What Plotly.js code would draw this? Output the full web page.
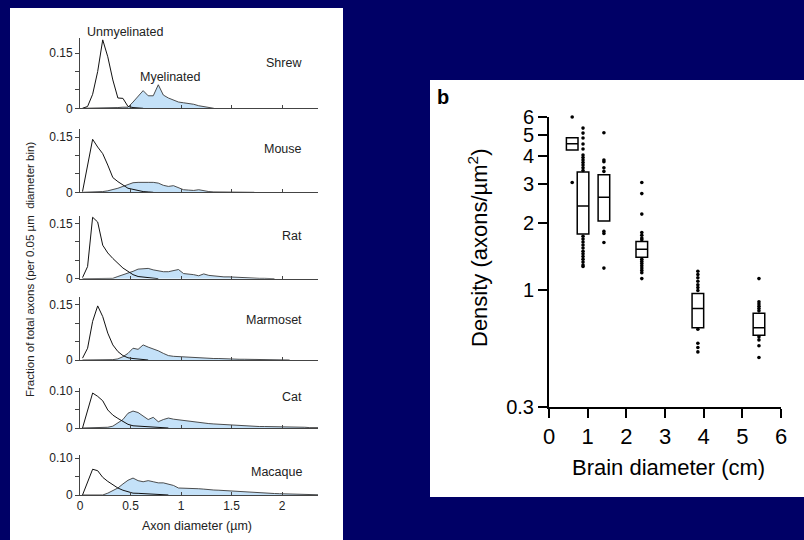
<!DOCTYPE html>
<html>
<head>
<meta charset="utf-8">
<script src="https://cdn.plot.ly/plotly-3.0.1.min.js"></script>
<style>html,body{margin:0;padding:0;background:#000066;}#chart{width:804px;height:540px;}</style>
</head>
<body>
<div id="chart"></div>
<script>
// ---------- Panel a: axon diameter distributions ----------
const diameterBins = [0.025,0.075,0.125,0.175,0.225,0.275,0.325,0.375,0.425,0.475,0.525,0.575,0.625,0.675,0.725,0.775,0.825,0.875,0.925,0.975,1.025,1.075,1.125,1.175,1.225,1.275,1.325,1.375,1.425,1.475,1.525,1.575,1.625,1.675,1.725,1.775,1.825,1.875,1.925,1.975,2.025,2.075,2.125,2.175,2.225,2.275,2.325,2.375];
const species = ["Shrew","Mouse","Rat","Marmoset","Cat","Macaque"];

const shrewUnmyel = [0,0.005,0.038,0.1,0.186,0.14,0.077,0.028,0.027,0.005,0.002,0.001,0];
const shrewMyel   = [0,0,0,0,0,0,0,0.002,0.003,0.003,0.017,0.032,0.048,0.034,0.034,0.064,0.036,0.028,0.022,0.017,0.015,0.014,0.011,0.007,0.004,0.001,0];
const mouseUnmyel = [0.002,0.074,0.144,0.123,0.105,0.074,0.04,0.029,0.02,0.011,0.008,0.004,0.002,0.001,0];
const mouseMyel   = [0,0,0,0.001,0.002,0.004,0.007,0.011,0.016,0.022,0.026,0.027,0.028,0.027,0.027,0.025,0.019,0.016,0.018,0.012,0.007,0.006,0.005,0.007,0.004,0.002,0.001,0.001,0.0005,0.0005,0.0005,0.0005,0.0005,0.0005,0];
const ratUnmyel   = [0.003,0.033,0.167,0.154,0.091,0.07,0.055,0.042,0.029,0.02,0.011,0.006,0.004,0.003,0.001,0];
const ratMyel     = [0,0,0,0,0,0,0.001,0.006,0.01,0.015,0.02,0.026,0.027,0.028,0.024,0.021,0.019,0.019,0.021,0.025,0.014,0.013,0.011,0.008,0.013,0.009,0.007,0.005,0.005,0.005,0.004,0.004,0.004,0.002,0.001,0.001,0.001,0.0005,0];
const marmUnmyel  = [0.005,0.032,0.105,0.147,0.118,0.073,0.041,0.023,0.012,0.006,0.004,0.002,0.001,0];
const marmMyel    = [0,0,0,0,0,0,0.001,0.003,0.009,0.018,0.032,0.029,0.041,0.035,0.031,0.025,0.018,0.012,0.01,0.009,0.008,0.007,0.007,0.006,0.005,0.004,0.004,0.004,0.003,0.003,0.003,0.002,0.002,0.002,0.002,0.002,0.001,0.001,0.001,0.001,0.001,0];
const catUnmyel   = [0,0.046,0.095,0.086,0.074,0.049,0.035,0.026,0.017,0.01,0.006,0.005,0.004,0.004,0.003,0.002,0.001,0];
const catMyel     = [0,0,0,0,0,0.002,0.005,0.013,0.023,0.04,0.046,0.042,0.032,0.023,0.029,0.017,0.023,0.027,0.024,0.022,0.02,0.018,0.016,0.014,0.013,0.012,0.011,0.01,0.009,0.008,0.007,0.006,0.006,0.005,0.005,0.004,0.004,0.004,0.003,0.003,0.003,0.002,0.002,0.002,0.002,0.001,0.001,0.001];
const macUnmyel   = [0,0.037,0.07,0.066,0.048,0.037,0.028,0.019,0.013,0.009,0.005,0.0045,0.0036,0.003,0.002,0.0015,0.001,0];
const macMyel     = [0,0,0,0,0,0.005,0.012,0.019,0.03,0.04,0.046,0.039,0.036,0.039,0.036,0.033,0.033,0.03,0.026,0.019,0.019,0.019,0.018,0.017,0.016,0.014,0.0135,0.013,0.012,0.011,0.01,0.009,0.008,0.007,0.0065,0.006,0.005,0.0045,0.004,0.0035,0.003,0.002,0.0015,0.001,0.0005,0.0005,0.0005,0.0005];

const unmyelSeries = [shrewUnmyel, mouseUnmyel, ratUnmyel, marmUnmyel, catUnmyel, macUnmyel];
const myelSeries   = [shrewMyel, mouseMyel, ratMyel, marmMyel, catMyel, macMyel];
const panelTopTick = [0.15,0.15,0.15,0.15,0.10,0.10];
const panelTopTickText = ["0.15","0.15","0.15","0.15","0.10","0.10"];
const diamTicks = [0,0.5,1,1.5,2];
const diamTickText = ["0","0.5","1","1.5","2"];

// ---------- Panel b: axon density vs brain diameter ----------
const brainDiameter = [0.6, 0.88, 1.42, 2.4, 3.85, 5.43];
const densQ1     = [4.27, 1.79, 2.05, 1.41, 0.68, 0.63];
const densMedian = [4.55, 2.39, 2.62, 1.53, 0.83, 0.68];
const densQ3     = [4.84, 3.4, 3.3, 1.66, 0.97, 0.79];
const dots1 = [6.0, 3.05];
const dots2 = [5.35,5.08,4.83,4.54,4.31,4.05,3.95,3.85,3.75,3.65,3.55,3.45,1.75,1.7,1.65,1.6,1.55,1.5,1.46,1.42,1.38,1.34,1.3,1.28];
const dots3 = [5.1,3.85,3.78,3.55,3.42,1.84,1.8,1.64,1.26];
const dots4 = [3.05,2.72,2.2,1.82,1.77,1.72,1.69,1.38,1.35,1.32,1.29,1.26,1.23,1.2,1.13];
const dots5 = [1.22,1.18,1.14,1.1,1.06,1.03,1.0,0.67,0.58,0.555,0.53];
const dots6 = [1.13,0.89,0.87,0.85,0.83,0.81,0.62,0.6,0.565,0.5];
const dotGroups = [dots1,dots2,dots3,dots4,dots5,dots6];
const densTicks = [0.3,1,2,3,4,5,6];
const densTickText = ["0.3","1","2","3","4","5","6"];
const brainTicks = [0,1,2,3,4,5,6];

// ---------- layout helpers ----------
const W = 804, H = 540;
const PX = p => p / W;
const PY = p => 1 - p / H;
const FONT = "Liberation Sans, Arial, sans-serif";
const pxPerUnit = 368;
const panelBase = [108.3, 192.3, 278.7, 360, 428, 495];
const panelTop  = [0.19, 0.172, 0.17, 0.17, 0.11, 0.11];

const traces = [];
const layout = {
  width: W, height: H,
  margin: {l:0, r:0, t:0, b:0},
  paper_bgcolor: "#000066",
  plot_bgcolor: "rgba(0,0,0,0)",
  showlegend: false,
  font: {family: FONT, color: "#222", size: 12},
  shapes: [
    {type:"rect", xref:"paper", yref:"paper", x0:PX(10), x1:PX(343), y0:0, y1:PY(8), fillcolor:"#ffffff", line:{width:0}, layer:"below"},
    {type:"rect", xref:"paper", yref:"paper", x0:PX(430), x1:1, y0:PY(497), y1:PY(80), fillcolor:"#ffffff", line:{width:0}, layer:"below"}
  ],
  annotations: []
};

for (let i = 0; i < 6; i++) {
  const n = i + 1;
  const xa = n === 1 ? "x" : "x" + n;
  const ya = n === 1 ? "y" : "y" + n;
  const myel = myelSeries[i], unm = unmyelSeries[i];
  traces.push({
    type:"scatter", mode:"lines", x: diameterBins.slice(0, myel.length), y: myel,
    xaxis: xa, yaxis: ya, fill:"tozeroy", fillcolor:"#c4e1f8",
    line:{color:"#3a3a3a", width:0.9}, hoverinfo:"skip"
  });
  traces.push({
    type:"scatter", mode:"lines", x: diameterBins.slice(0, unm.length), y: unm,
    xaxis: xa, yaxis: ya, line:{color:"#111", width:1}, hoverinfo:"skip"
  });
  const base = panelBase[i];
  const topPx = base - panelTop[i] * pxPerUnit;
  const last = i === 5;
  layout["xaxis" + (n === 1 ? "" : n)] = {
    domain:[PX(80), PX(318)], range:[0, 2.356], anchor: ya,
    showgrid:false, zeroline:false, showline:true, linecolor:"#444", linewidth:1,
    ticks:"inside", ticklen:3, tickcolor:"#444", tickwidth:1,
    tickmode:"array", tickvals: last ? diamTicks : diamTicks.slice(1),
    ticktext: last ? diamTickText : diamTickText.slice(1),
    showticklabels: last, tickfont:{family:FONT, size:12, color:"#222"}
  };
  layout["yaxis" + (n === 1 ? "" : n)] = {
    domain:[PY(base), PY(topPx)], range:[0, panelTop[i]], anchor: xa,
    showgrid:false, zeroline:false, showline:true, linecolor:"#444", linewidth:1,
    ticks:"outside", ticklen:4, tickcolor:"#444", tickwidth:1,
    tickmode:"array", tickvals: [0, panelTopTick[i]], ticktext: ["0", panelTopTickText[i]],
    minor:{ticks:"outside", ticklen:4, tickcolor:"#444", tickwidth:1, dtick:0.05, tick0:0, showgrid:false},
    tickfont:{family:FONT, size:12, color:"#222"}
  };
}

// species labels
const speciesLabelY = [63, 149, 236, 320, 397, 472];
species.forEach((s, i) => {
  layout.annotations.push({xref:"paper", yref:"paper", x:PX(304), y:PY(speciesLabelY[i]), xanchor:"right", yanchor:"middle",
    text:s, showarrow:false, font:{family:FONT, size:12.5, color:"#222"}});
});
layout.annotations.push({xref:"paper", yref:"paper", x:PX(125), y:PY(32), xanchor:"center", yanchor:"middle",
  text:"Unmyelinated", showarrow:false, font:{family:FONT, size:12.5, color:"#222"}});
layout.annotations.push({xref:"paper", yref:"paper", x:PX(170), y:PY(77), xanchor:"center", yanchor:"middle",
  text:"Myelinated", showarrow:false, font:{family:FONT, size:12.5, color:"#222"}});
layout.annotations.push({xref:"paper", yref:"paper", x:PX(197), y:PY(526), xanchor:"center", yanchor:"middle",
  text:"Axon diameter (µm)", showarrow:false, font:{family:FONT, size:12.5, color:"#222"}});
layout.annotations.push({xref:"paper", yref:"paper", x:PX(30), y:PY(270), xanchor:"center", yanchor:"middle", textangle:-90,
  text:"Fraction of total axons (per 0.05 µm  diameter bin)", showarrow:false, font:{family:FONT, size:11.5, color:"#222"}});

// ---------- panel b traces ----------
traces.push({
  type:"box", x: brainDiameter, q1: densQ1, median: densMedian, q3: densQ3,
  lowerfence: densQ1, upperfence: densQ3, xaxis:"x7", yaxis:"y7",
  width:0.3, whiskerwidth:0, boxpoints:false,
  line:{color:"#000", width:1.5}, fillcolor:"rgba(255,255,255,0)", hoverinfo:"skip"
});
const dotX = [], dotY = [];
dotGroups.forEach((g, i) => g.forEach(v => { dotX.push(brainDiameter[i]); dotY.push(v); }));
traces.push({
  type:"scatter", mode:"markers", x: dotX, y: dotY, xaxis:"x7", yaxis:"y7", cliponaxis:false,
  marker:{color:"#000", size:3.6}, hoverinfo:"skip"
});
layout.xaxis7 = {
  domain:[PX(549), PX(781)], range:[0, 6], anchor:"y7",
  showgrid:false, zeroline:false, showline:true, linecolor:"#000", linewidth:2,
  ticks:"outside", ticklen:9, tickwidth:2, tickcolor:"#000",
  tickmode:"array", tickvals: brainTicks, ticktext: brainTicks.map(String),
  tickfont:{family:FONT, size:22, color:"#000"}
};
layout.yaxis7 = {
  domain:[PY(407), PY(117)], type:"log", range:[Math.log10(0.3), Math.log10(6)], anchor:"x7",
  showgrid:false, zeroline:false, showline:true, linecolor:"#000", linewidth:2,
  ticks:"outside", ticklen:9, tickwidth:2, tickcolor:"#000",
  tickmode:"array", tickvals: densTicks, ticktext: densTickText,
  tickfont:{family:FONT, size:20, color:"#000"}
};
layout.annotations.push({xref:"paper", yref:"paper", x:PX(443), y:PY(97), xanchor:"center", yanchor:"middle",
  text:"<b>b</b>", showarrow:false, font:{family:FONT, size:20, color:"#000"}});
layout.annotations.push({xref:"paper", yref:"paper", x:PX(668), y:PY(467), xanchor:"center", yanchor:"middle",
  text:"Brain diameter (cm)", showarrow:false, font:{family:FONT, size:22, color:"#000"}});
layout.annotations.push({xref:"paper", yref:"paper", x:PX(478), y:PY(248), xanchor:"center", yanchor:"middle", textangle:-90,
  text:"Density (axons/µm<sup>2</sup>)", showarrow:false, font:{family:FONT, size:22, color:"#000"}});

Plotly.newPlot("chart", traces, layout, {staticPlot:true, displayModeBar:false});
</script>
</body>
</html>
